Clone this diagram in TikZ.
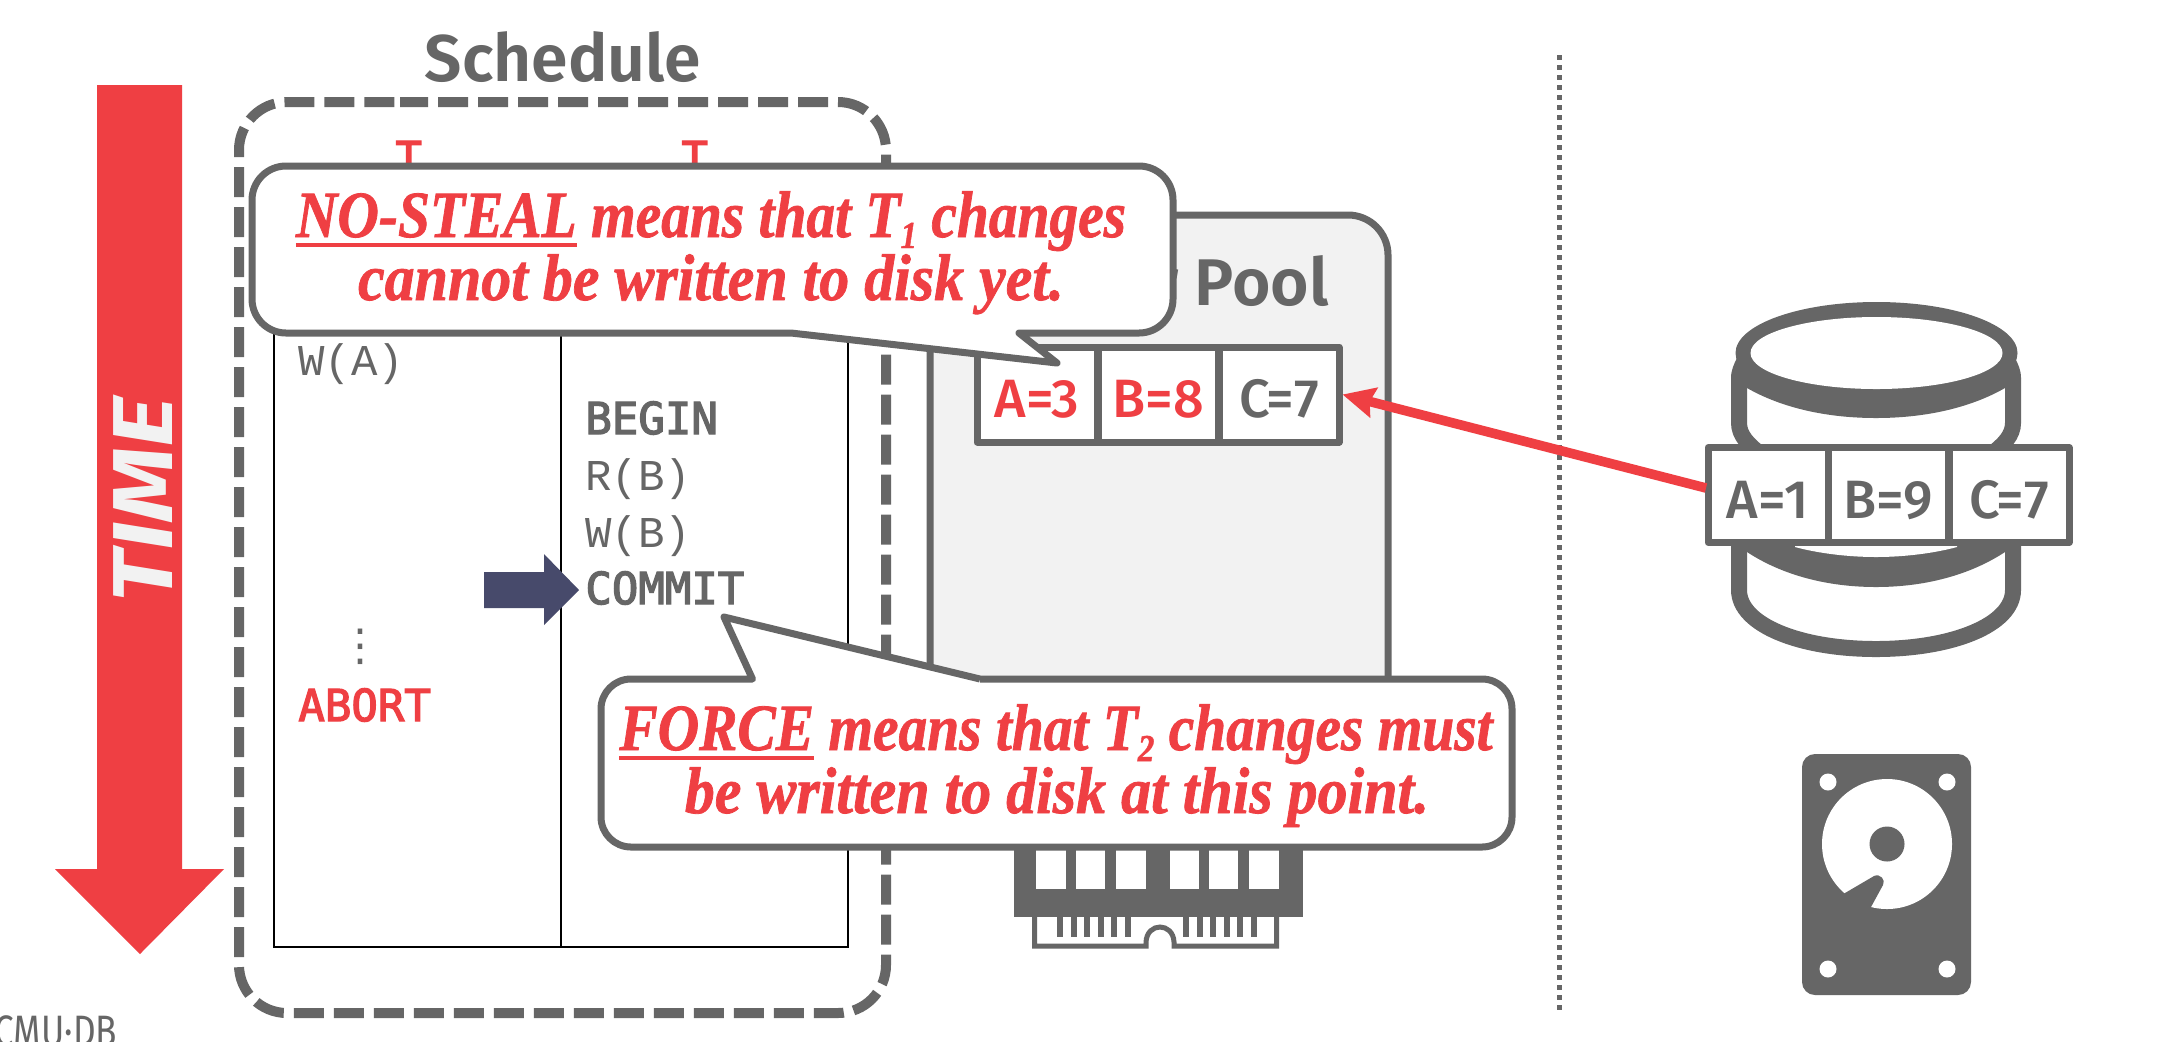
\documentclass[tikz,border=0pt]{standalone}
\usepackage{fontspec}
\usetikzlibrary{arrows.meta}
\setmainfont{Liberation Serif}[BoldItalicFeatures={FakeBold=1.2}]
\newfontfamily\fsb{Fira Sans SemiBold}
\newfontfamily\fsm{Fira Sans Medium}
\newfontfamily\fsr{Fira Sans}
\newfontfamily\fbi{Fira Sans Bold Italic}[FakeStretch=1.14]
\newfontfamily\mono{DejaVu Sans Mono}[FakeBold=3]
\newfontfamily\lmono{Liberation Mono}
\newfontfamily\dejavu{DejaVu Sans}
\definecolor{gr}{HTML}{666666}
\definecolor{rd}{HTML}{EF3F43}
\definecolor{nv}{HTML}{474A6B}
\definecolor{lg}{HTML}{F2F2F2}
\newcommand\myul[1]{\setbox0\hbox{#1}\rlap{\raisebox{-5pt}{\rule{\wd0}{2pt}}}\box0\relax}
\newcommand\mysub[1]{\raisebox{-5.5pt}{\fontsize{19}{19}\selectfont #1}}
\newcommand\headsub[1]{\raisebox{-8pt}{\fontsize{16}{16}\selectfont #1}}
\tikzset{
  txt/.style={inner sep=0pt,anchor=base west},
  code/.style={txt,text=gr,font=\lmono\fontsize{22}{22}\selectfont},
  codeb/.style={txt,text=gr,font=\mono\fontsize{22}{22}\selectfont},
  cell/.style={draw=gr,line width=3.5pt,fill=white,line join=round,inner sep=0pt,minimum width=60pt,minimum height=47.5pt,text height=23pt,text depth=0pt,font=\fsm\fontsize{27}{27}\selectfont,text=gr},
  callout/.style={draw=gr,fill=white,line width=3.5pt,line join=round},
  say/.style={inner sep=0pt,anchor=base,text=rd,font=\fontsize{33}{33}\selectfont\bfseries\itshape},
  head/.style={inner sep=0pt,text=gr,font=\fsb\fontsize{33}{33}\selectfont},
}
\begin{document}
\begin{tikzpicture}[x=.5pt,y=-.5pt]
\clip (0,0) rectangle (2166,1041);
\fill[white] (0,0) rectangle (2166,1041);
% time arrow
\fill[rd] (97,85) -- (182,85) -- (182,869) -- (224,869) -- (140,954) -- (55,869) -- (97,869) -- cycle;
\node[inner sep=0pt,rotate=90,anchor=base,text=lg,font=\fbi\fontsize{42.5}{42.5}\selectfont] (time) at (172,500) {TIME};
% schedule
\node[head,anchor=base] (sched) at (563,81) {Schedule};
\node[codeb,text=rd] (t1) at (395,173) {T\headsub{1}};
\node[codeb,text=rd] (t2) at (681,173) {T\headsub{2}};
\draw[black,line width=1pt] (274,200) -- (274,947) -- (848,947) -- (848,200) (560.5,200) -- (560.5,947);
\node[code] (wa) at (298,375) {W(A)};
\node[codeb] (begin) at (585,434) {BEGIN};
\node[code] (rb) at (585,490) {R(B)};
\node[code] (wb) at (585,547) {W(B)};
\node[codeb] (commit) at (585,604) {COMMIT};
\node[inner sep=0pt,anchor=base,text=gr,font=\dejavu\fontsize{22}{22}\selectfont] (dots) at (360,660) {⋮};
\node[codeb,text=rd] (abort) at (298,721) {ABORT};
\draw[gr,line width=5pt,dash pattern=on 15pt off 5pt,dash phase=1pt,rounded corners=24pt] (400,102) -- (886,102) -- (886,1013) -- (239,1013) -- (239,102) -- (400,102);
% buffer pool
\draw[gr,fill=lg,line width=3.5pt,rounded corners=20pt] (930,800) -- (930,215) -- (1388,215) -- (1388,800) -- cycle;
\node[head,anchor=base east] (pool) at (1329,305) {Buffer Pool};
\node[cell,text=rd] (pa) at (1037,394.5) {A=3};
\node[cell,text=rd] (pb) at (1158.5,394.5) {B=8};
\node[cell] (pc) at (1279,394.5) {C=7};
% memory chip
\fill[gr] (1014,835) rectangle (1303,917);
\foreach \a/\b in {1036/1066,1076/1105,1116/1146,1170/1199,1209/1238,1249/1279}{\fill[white] (\a,835) rectangle (\b,889);}
\draw[gr,line width=2.5pt] (1034.5,917) -- (1034.5,946) -- (1146,946) -- (1146,942) .. controls (1147,922) and (1173,922) .. (1174,942) -- (1174,946) -- (1276.5,946) -- (1276.5,917);
\foreach \a in {1057,1070.6,1084.2,1097.8,1111.4,1125,1183,1196.6,1210.2,1223.8,1237.4,1251}{\fill[gr] (\a,917) rectangle (\a+6,937);}
% blue arrow
\fill[nv] (484,572) -- (544,572) -- (544,554) -- (579,590) -- (544,625) -- (544,608) -- (484,608) -- cycle;
% callouts
\draw[callout,rounded corners=0pt] (791,333) -- (1057,363) -- (1019,333) [rounded corners=17pt] -- (1173,333) -- (1173,166) -- (252,166) -- (252,333) -- (791,333);
\node[say,xscale=.87] (c1a) at (711,237) {\myul{NO-STEAL} means that T\mysub{1} changes};
\node[say,xscale=.908] (c1b) at (711,300) {cannot be written to disk yet.};
\draw[callout,rounded corners=0pt] (980,679) -- (724,617) -- (752.5,679) [rounded corners=15pt] -- (601,679) -- (601,847) -- (1512,847) -- (1512,679) -- (980,679);
\node[say,xscale=.87] (c2a) at (1056,750) {\myul{FORCE} means that T\mysub{2} changes must};
\node[say,xscale=.908] (c2b) at (1057,813) {be written to disk at this point.};
% divider
\draw[gr,line width=2.5pt,dash pattern=on 2.5pt off 2.5pt] (1559.5,55) -- (1559.5,1010);
% database
\draw[gr,line width=8pt] (1739,378) -- (1739,423) .. controls (1739,435) and (1748,445) .. (1762,455);
\draw[gr,line width=8pt] (2013,378) -- (2013,423) .. controls (2013,435) and (2004,445) .. (1990,455);
\fill[gr] (1731,378) .. controls (1731,370) and (1734,364) .. (1737,358) -- (2015,358) .. controls (2018,364) and (2021,370) .. (2021,378) -- (2005,388) .. controls (1970,408) and (1925,418) .. (1876,418) .. controls (1827,418) and (1782,408) .. (1747,388) -- cycle;
\fill[gr] (1876.5,353) ellipse (70.5pt and 25.5pt);
\fill[white] (1876.5,353) ellipse (63pt and 18pt);
\draw[gr,line width=8pt] (1739,535) -- (1739,590) .. controls (1739,625) and (1800,649) .. (1876,649) .. controls (1952,649) and (2013,625) .. (2013,590) -- (2013,535);
\fill[gr] (1745,540) -- (2007,540) -- (2005,552) .. controls (1970,575) and (1925,587) .. (1876,587) .. controls (1827,587) and (1782,575) .. (1747,552) -- cycle;
\fill[white] (1795,535) -- (1957,535) -- (1957,547) .. controls (1935,553) and (1905,557) .. (1876,557) .. controls (1847,557) and (1817,553) .. (1795,547) -- cycle;
\node[cell] (da) at (1768,495) {A=1};
\node[cell] (db) at (1888.5,495) {B=9};
\node[cell] (dc) at (2009,495) {C=7};
% fetch arrow
\coordinate (from) at (1706,488);
\draw[rd,line width=4.8pt,-{Stealth[length=16pt,width=15pt,inset=2pt]}] (from) -- (pc.east);
% disk
\fill[gr,rounded corners=6.5pt] (1802,754) rectangle (1971,995);
\fill[white] (1887,844) circle (32.5pt);
\fill[gr] (1887,844) circle (8.75pt);
\fill[gr] (1845,893) -- (1874,876) .. controls (1880,873) and (1886,880) .. (1883,885) -- (1871,907) -- (1860,925) -- (1830,905) -- cycle;
\foreach \a/\b in {1828/782,1947/782,1828/969,1947/969}{\fill[white] (\a,\b) circle (4.25pt);}
% logo
\node[inner sep=0pt,anchor=base west,text=gr,xscale=.8,font=\fsr\fontsize{22}{22}\selectfont] (cmu) at (-6,1046) {CMU·DB};
\end{tikzpicture}
\end{document}
